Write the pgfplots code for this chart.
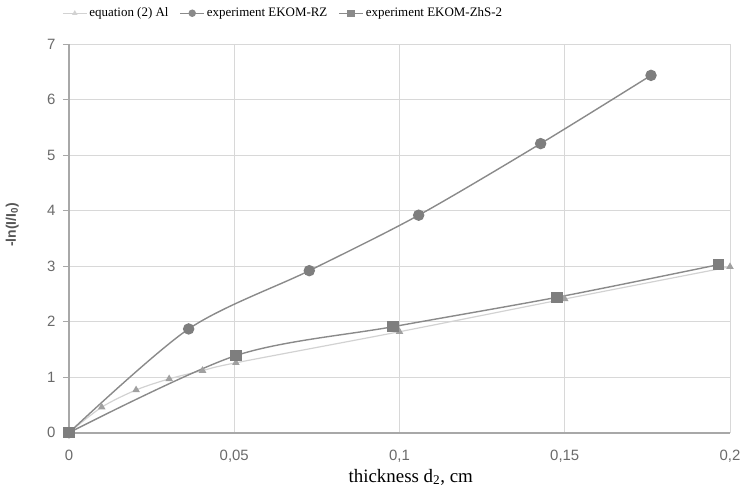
\documentclass[border=0pt]{standalone}
\usepackage{fontspec}
\setmainfont{Liberation Serif}
\setsansfont{Liberation Sans}
\usepackage{pgfplots}
\pgfplotsset{compat=1.18}
\definecolor{ser}{HTML}{8A8A8A}
\definecolor{mk}{HTML}{7E7E7E}
\definecolor{eqline}{HTML}{D2D2D2}
\definecolor{eqmk}{HTML}{A0A0A0}
\definecolor{gridc}{HTML}{D8D8D8}
\definecolor{axc}{HTML}{A8A8A8}
\definecolor{tickc}{HTML}{6A6A6A}
\begin{document}
\begin{tikzpicture}
\begin{axis}[
  scale only axis,
  width=661bp, height=388.4bp,
  xmin=0, xmax=0.2, ymin=0, ymax=7,
  axis x line*=bottom, axis y line*=left,
  axis line style={axc, line width=1.6bp},
  xtick={0,0.05,0.1,0.15,0.2},
  xticklabels={0,{0,05},{0,1},{0,15},{0,2}},
  ytick={0,1,2,3,4,5,6,7},
  grid=major,
  major grid style={gridc, line width=0.9bp},
  x tick style={draw=none},
  y tick style={axc, line width=0.9bp},
  tick align=outside,
  major tick length=6bp,
  /pgf/number format/assume math mode=true,
  tick label style={font=\sffamily\fontsize{15}{17}\selectfont, text=tickc},
  xticklabel style={yshift=-8bp},
  yticklabel style={xshift=-4bp},
  xlabel={thickness d\textsubscript{2}, cm},
  xlabel style={font=\fontsize{19}{21}\selectfont, at={(axis description cs:0.517,-0.114)}, anchor=center},
  ylabel={-ln(I/I\textsubscript{0})},
  ylabel style={font=\sffamily\bfseries\fontsize{14}{16}\selectfont, text=tickc!80!black, at={(axis description cs:-0.086,0.535)}, anchor=center},
  legend columns=3,
  legend style={draw=none, fill=none, at={(axis description cs:0.324,1.08)}, anchor=center,
    font=\fontsize{13}{15}\selectfont, /tikz/every even column/.append style={column sep=9bp},
    nodes={inner xsep=2bp}},
  legend image code/.code={\draw[#1, mark=none] (0bp,0bp) -- (24bp,0bp);
    \draw[#1, mark options={scale=0.6}] plot coordinates {(12bp,0bp)};},
]
\addplot[eqline, line width=1.2bp, smooth, tension=0.5, mark=triangle*, mark size=3.2bp,
  mark options={fill=eqmk, draw=eqmk, solid}] coordinates {
  (0,0) (0.0099,0.46) (0.0203,0.77) (0.0303,0.97) (0.0404,1.12) (0.0505,1.26)
  (0.1,1.82) (0.15,2.41) (0.2,2.99)};
\addlegendentry{equation (2) Al}
\addplot[ser, line width=1.4bp, smooth, tension=0.5, mark=*, mark size=5bp,
  mark options={fill=mk, draw=mk, solid}] coordinates {
  (0,0) (0.0362,1.87) (0.0727,2.92) (0.1058,3.92) (0.1427,5.21) (0.1761,6.44)};
\addlegendentry{experiment EKOM-RZ}
\addplot[ser, line width=1.4bp, smooth, tension=0.5, mark=square*, mark size=5bp,
  mark options={fill=mk, draw=mk, solid}] coordinates {
  (0,0) (0.0505,1.39) (0.098,1.91) (0.1476,2.44) (0.1966,3.03)};
\addlegendentry{experiment EKOM-ZhS-2}
\end{axis}
\pgfresetboundingbox
\path (-69bp,-61.3bp) rectangle (674bp,432.7bp);
\end{tikzpicture}
\end{document}
